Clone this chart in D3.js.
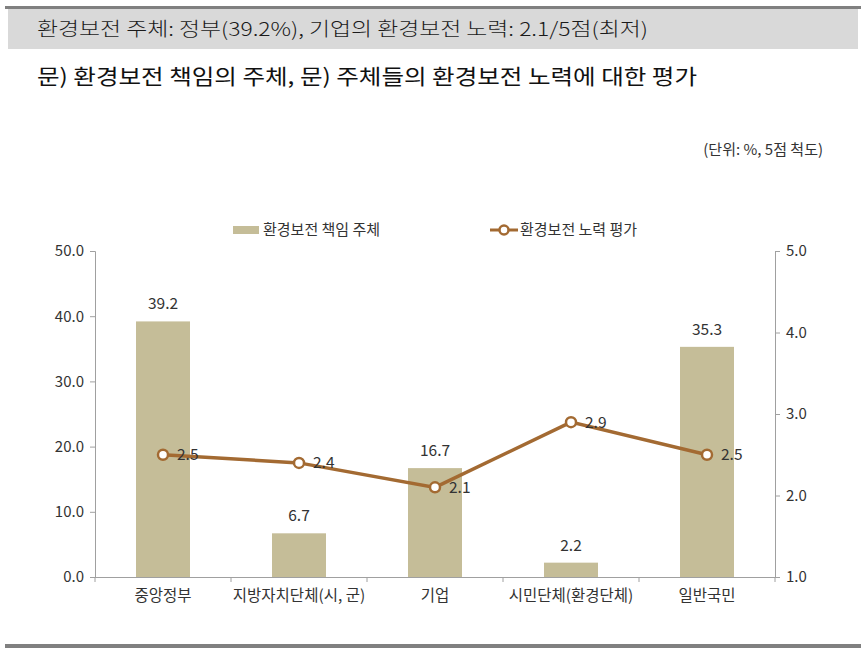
<!DOCTYPE html>
<html><head><meta charset="utf-8">
<script src="https://cdn.jsdelivr.net/npm/d3@7"></script>
<style>body{margin:0;background:#fff;} svg{display:block;font-family:"Noto Sans CJK KR","Noto Sans",sans-serif;}</style>
</head><body>
<script>
const categories = ["중앙정부","지방자치단체(시, 군)","기업","시민단체(환경단체)","일반국민"];
const responsibility = [39.2, 6.7, 16.7, 2.2, 35.3];
const effort = [2.5, 2.4, 2.1, 2.9, 2.5];
const leftTicks = [0,10,20,30,40,50];
const rightTicks = [1,2,3,4,5];
const seriesNames = ["환경보전 책임 주체","환경보전 노력 평가"];
const headline = "환경보전 주체: 정부(39.2%), 기업의 환경보전 노력: 2.1/5점(최저)";
const subtitle = "문) 환경보전 책임의 주체, 문) 주체들의 환경보전 노력에 대한 평가";
const unitNote = "(단위: %, 5점 척도)";

(function(){
const W=866,H=651;
const svg=d3.select("body").append("svg").attr("width",W).attr("height",H);
const barColor="#c5bd98", lineColor="#a36a32", axisColor="#a0a0a0", textColor="#333";

// header
svg.append("rect").attr("x",5).attr("y",6).attr("width",856).attr("height",3).attr("fill","#808080");
svg.append("rect").attr("x",8).attr("y",9).attr("width",850).attr("height",40).attr("fill","#d9d9d9");
svg.append("text").attr("x",37).attr("y",36).attr("font-size",19).attr("font-weight",300).attr("fill","#1a1a1a")
  .attr("textLength",611).attr("lengthAdjust","spacingAndGlyphs").text(headline);
svg.append("text").attr("x",37).attr("y",84).attr("font-size",21).attr("font-weight",400).attr("fill","#111")
  .attr("textLength",660).attr("lengthAdjust","spacingAndGlyphs").text(subtitle);
svg.append("text").attr("x",823).attr("y",155).attr("text-anchor","end").attr("font-size",15).attr("fill",textColor).text(unitNote);
svg.append("rect").attr("x",5).attr("y",644).attr("width",856).attr("height",4).attr("fill","#808080");

// scales
const pl=95,pr=775,pt=251,pb=577;
const x=d3.scaleBand().domain(categories).range([pl,pr]);
const yL=d3.scaleLinear().domain([0,50]).range([pb,pt]);
const yR=d3.scaleLinear().domain([1,5]).range([pb,pt]);

// axes
const gL=svg.append("g").attr("transform",`translate(${pl},0)`)
  .call(d3.axisLeft(yL).tickValues(leftTicks).tickFormat(d3.format(".1f")).tickSize(5).tickPadding(6));
const gR=svg.append("g").attr("transform",`translate(${pr},0)`)
  .call(d3.axisRight(yR).tickValues(rightTicks).tickFormat(d3.format(".1f")).tickSize(5).tickPadding(6));
const gX=svg.append("g").attr("transform",`translate(0,${pb})`)
  .call(d3.axisBottom(x).tickSize(0).tickPadding(13));
const bounds=categories.map(c=>x(c)).concat([pr]);
gX.selectAll("line.bt").data(bounds).enter().append("line").attr("class","bt")
  .attr("x1",d=>d).attr("x2",d=>d).attr("y1",0).attr("y2",5);
[gL,gR,gX].forEach(g=>{
  g.selectAll("path,line").attr("stroke",axisColor);
  g.selectAll("text").attr("fill",textColor).attr("font-size",15).attr("font-family","'Noto Sans CJK KR',sans-serif");
});
gX.selectAll("text").attr("font-size",15.5);
gX.select(".domain").attr("d",`M${pl},0.5H${pr}`);

// bars
const bw=54;
svg.append("g").selectAll("rect").data(responsibility).enter().append("rect")
  .attr("x",(d,i)=>x(categories[i])+x.bandwidth()/2-bw/2).attr("width",bw)
  .attr("y",d=>yL(d)).attr("height",d=>pb-yL(d)).attr("fill",barColor);
svg.append("g").selectAll("text").data(responsibility).enter().append("text")
  .attr("x",(d,i)=>x(categories[i])+x.bandwidth()/2).attr("y",d=>yL(d)-12)
  .attr("text-anchor","middle").attr("font-size",15.5).attr("fill",textColor).text(d=>d.toFixed(1));

// line
const cx=(i)=>x(categories[i])+x.bandwidth()/2;
svg.append("path").datum(effort).attr("fill","none").attr("stroke",lineColor).attr("stroke-width",3.5)
  .attr("d",d3.line().x((d,i)=>cx(i)).y(d=>yR(d)));
svg.append("g").selectAll("circle").data(effort).enter().append("circle")
  .attr("cx",(d,i)=>cx(i)).attr("cy",d=>yR(d)).attr("r",5)
  .attr("fill","#fff").attr("stroke",lineColor).attr("stroke-width",2.5);
svg.append("g").selectAll("text").data(effort).enter().append("text")
  .attr("x",(d,i)=>cx(i)+14).attr("y",d=>yR(d)).attr("dy","0.35em")
  .attr("font-size",15.5).attr("fill",textColor).text(d=>d.toFixed(1));

// legend
svg.append("rect").attr("x",233).attr("y",226).attr("width",26).attr("height",8).attr("fill",barColor);
svg.append("text").attr("x",263).attr("y",235).attr("font-size",15).attr("fill",textColor).text(seriesNames[0]);
svg.append("line").attr("x1",490).attr("x2",518).attr("y1",230).attr("y2",230).attr("stroke",lineColor).attr("stroke-width",3);
svg.append("circle").attr("cx",504).attr("cy",230).attr("r",4.5).attr("fill","#fff").attr("stroke",lineColor).attr("stroke-width",2.5);
svg.append("text").attr("x",520).attr("y",235).attr("font-size",15).attr("fill",textColor).text(seriesNames[1]);
})();
</script>
</body></html>
